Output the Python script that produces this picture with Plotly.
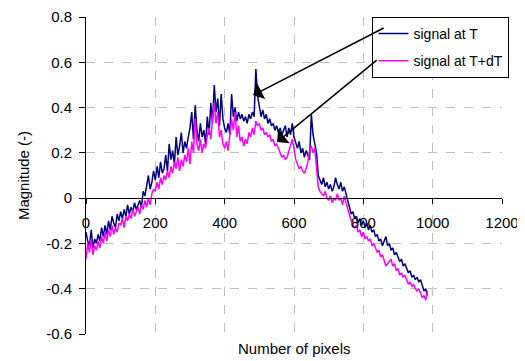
import plotly.graph_objects as go

# pixel index step used when reading the curves off the picture
STEP = 5

signal_T = [
    -0.15, -0.19, -0.21, -0.14, -0.22, -0.18, -0.20, -0.16, -0.19, -0.13, -0.17, -0.12, -0.16, -0.10, -0.14, -0.08, -0.11, -0.13, -0.07, -0.10,
    -0.06, -0.09, -0.05, -0.08, -0.03, -0.07, -0.04, -0.06, -0.02, -0.05, -0.03, -0.01, -0.04, 0.03, 0.01, 0.06, 0.10, 0.04, 0.07, 0.12,
    0.08, 0.14, 0.09, 0.16, 0.11, 0.13, 0.19, 0.12, 0.24, 0.17, 0.21, 0.15, 0.27, 0.19, 0.23, 0.29, 0.20, 0.25, 0.22, 0.27,
    0.31, 0.38, 0.26, 0.41, 0.30, 0.25, 0.33, 0.27, 0.30, 0.24, 0.36, 0.28, 0.42, 0.33, 0.50, 0.38, 0.44, 0.32, 0.46, 0.35,
    0.31, 0.29, 0.33, 0.28, 0.46, 0.36, 0.40, 0.34, 0.38, 0.35, 0.37, 0.34, 0.36, 0.33, 0.37, 0.35, 0.38, 0.36, 0.57, 0.45,
    0.40, 0.36, 0.39, 0.35, 0.37, 0.33, 0.35, 0.32, 0.33, 0.30, 0.32, 0.29, 0.31, 0.28, 0.30, 0.32, 0.27, 0.31, 0.28, 0.33,
    0.27, 0.24, 0.22, 0.25, 0.20, 0.22, 0.18, 0.21, 0.19, 0.17, 0.37, 0.28, 0.24, 0.20, 0.10, 0.08, 0.06, 0.09, 0.05, 0.07,
    0.04, 0.06, 0.03, 0.05, 0.09, 0.06, 0.04, 0.07, 0.03, 0.05, 0.02, -0.02, -0.04, -0.07, -0.06, -0.09, -0.08, -0.11, -0.09, -0.12,
    -0.10, -0.13, -0.11, -0.14, -0.12, -0.15, -0.14, -0.17, -0.16, -0.19, -0.18, -0.21, -0.19, -0.17, -0.21, -0.20, -0.23, -0.22, -0.25, -0.24,
    -0.26, -0.28, -0.27, -0.30, -0.29, -0.31, -0.33, -0.32, -0.35, -0.34, -0.36, -0.35, -0.37, -0.36, -0.39, -0.41, -0.40, -0.43,
]

signal_TdT = [
    -0.27, -0.20, -0.24, -0.18, -0.25, -0.21, -0.23, -0.19, -0.22, -0.17, -0.20, -0.15, -0.19, -0.14, -0.17, -0.12, -0.16, -0.13, -0.15, -0.11,
    -0.12, -0.09, -0.13, -0.08, -0.10, -0.07, -0.09, -0.05, -0.08, -0.06, -0.04, -0.07, -0.03, -0.05, -0.01, -0.04, 0.00, -0.03, 0.02, 0.04,
    0.03, 0.07, 0.04, 0.09, 0.06, 0.10, 0.08, 0.12, 0.09, 0.14, 0.11, 0.16, 0.13, 0.18, 0.12, 0.17, 0.14, 0.19, 0.16, 0.22,
    0.15, 0.25, 0.20, 0.35, 0.24, 0.21, 0.26, 0.20, 0.24, 0.22, 0.28, 0.31, 0.26, 0.35, 0.42, 0.33, 0.38, 0.27, 0.30, 0.24,
    0.22, 0.25, 0.21, 0.28, 0.35, 0.30, 0.38, 0.27, 0.32, 0.25, 0.27, 0.23, 0.26, 0.24, 0.29, 0.27, 0.31, 0.28, 0.34, 0.32,
    0.33, 0.30, 0.31, 0.28, 0.29, 0.27, 0.28, 0.25, 0.26, 0.23, 0.24, 0.22, 0.20, 0.18, 0.19, 0.17, 0.18, 0.21, 0.24, 0.26,
    0.22, 0.17, 0.15, 0.13, 0.14, 0.12, 0.11, 0.13, 0.16, 0.21, 0.23, 0.20, 0.22, 0.15, 0.05, 0.03, 0.02, 0.01, 0.03, 0.00,
    -0.01, 0.01, -0.02, 0.00, -0.01, 0.02, -0.01, 0.00, -0.03, 0.01, -0.02, -0.05, -0.07, -0.10, -0.12, -0.13, -0.12, -0.15, -0.14, -0.17,
    -0.15, -0.18, -0.17, -0.19, -0.18, -0.21, -0.20, -0.22, -0.24, -0.23, -0.26, -0.25, -0.28, -0.30, -0.29, -0.28, -0.27, -0.30, -0.29, -0.32,
    -0.31, -0.34, -0.33, -0.35, -0.34, -0.36, -0.38, -0.37, -0.39, -0.38, -0.40, -0.41, -0.40, -0.42, -0.44, -0.43, -0.45, -0.41,
]

pixels_T = [i * STEP for i in range(len(signal_T))]
pixels_TdT = [i * STEP for i in range(len(signal_TdT))]

x_ticks = [0, 200, 400, 600, 800, 1000, 1200]
y_ticks = [-0.6, -0.4, -0.2, 0, 0.2, 0.4, 0.6, 0.8]
y_labels = ["-0.6", "-0.4", "-0.2", "0", "0.2", "0.4", "0.6", "0.8"]

FONT = "Arial, Liberation Sans, sans-serif"

fig = go.Figure()
fig.add_trace(go.Scatter(x=pixels_T, y=signal_T, mode="lines", name="signal at T",
                         line=dict(color="#000080", width=1.5), legendgroup="a"))
fig.add_trace(go.Scatter(x=pixels_TdT, y=signal_TdT, mode="lines", name="signal at T+dT",
                         line=dict(color="#FF00FF", width=1.5), legendgroup="b"))

Y0, Y1 = -0.6, 0.8
fig.update_layout(
    width=525, height=361,
    margin=dict(l=78, r=31, t=9, b=35, autoexpand=False),
    paper_bgcolor="white", plot_bgcolor="white",
    font=dict(family=FONT, size=15, color="black"),
    showlegend=True,
    legend=dict(x=1.018, y=1.0, xanchor="right", yanchor="top",
                bgcolor="white", bordercolor="black", borderwidth=1,
                font=dict(size=14), tracegroupgap=6),
    xaxis=dict(range=[0, 1200], tickvals=x_ticks, ticktext=[str(v) for v in x_ticks],
               showgrid=True, gridcolor="#bfbfbf", griddash="dash", gridwidth=1,
               showline=True, linecolor="black", linewidth=1,
               ticks="outside", ticklen=5, tickcolor="black",
               anchor="free", position=(0 - Y0) / (Y1 - Y0),
               ticklabelstandoff=6, zeroline=False, automargin=False,
               ticklabeloverflow="allow"),
    yaxis=dict(range=[Y0, Y1], tickvals=y_ticks, ticktext=y_labels,
               showgrid=True, gridcolor="#bfbfbf", griddash="dash", gridwidth=1,
               showline=True, linecolor="black", linewidth=1,
               ticks="outside", ticklen=6, tickcolor="black",
               ticklabelstandoff=4, zeroline=False, automargin=False,
               ticklabeloverflow="allow",
               title=dict(text="Magnitude (-)", font=dict(size=15), standoff=12)),
    annotations=[
        dict(text="Number of pixels", xref="paper", yref="paper", x=0.5, y=-0.045,
             xanchor="center", yanchor="middle", showarrow=False, font=dict(size=15)),
        dict(x=482, y=0.455, xref="x", yref="y", ax=863, ay=0.755, axref="x", ayref="y",
             showarrow=True, arrowhead=1, arrowsize=2, arrowwidth=1.5, arrowcolor="black", text=""),
        dict(x=551, y=0.248, xref="x", yref="y", ax=843, ay=0.615, axref="x", ayref="y",
             showarrow=True, arrowhead=1, arrowsize=2, arrowwidth=1.5, arrowcolor="black", text=""),
    ],
)

fig.write_html("out.html")
